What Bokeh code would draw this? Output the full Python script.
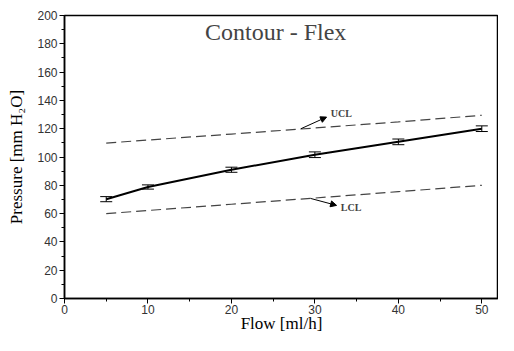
from bokeh.plotting import figure
from bokeh.models import ColumnDataSource, Whisker, TeeHead, Label, Arrow, NormalHead, Range1d, FixedTicker
from bokeh.embed import file_html
from bokeh.resources import INLINE

flow = [5, 10, 20, 30, 40, 50]
pressure = [70.2, 78.8, 91.0, 101.6, 110.7, 120.0]
err = [1.8, 1.5, 1.8, 2.0, 2.0, 2.0]
ucl = [109.8, 112.0, 116.2, 120.5, 124.8, 129.5]
lcl = [60.0, 62.2, 66.6, 71.0, 75.5, 80.0]

src = ColumnDataSource(dict(x=flow, y=pressure,
                            lo=[p - e for p, e in zip(pressure, err)],
                            hi=[p + e for p, e in zip(pressure, err)],
                            ucl=ucl, lcl=lcl))

p = figure(width=498, height=335, output_backend="svg", toolbar_location=None,
           x_range=Range1d(0, 52), y_range=Range1d(0, 200),
           min_border_top=15, min_border_right=0, min_border_left=64, min_border_bottom=10)
p.grid.visible = False
p.outline_line_color = "black"
p.outline_line_width = 1.5
p.background_fill_color = "white"
p.border_fill_color = "white"

p.line("x", "ucl", source=src, line_color="#444444", line_width=1.2, line_dash="10 5")
p.line("x", "lcl", source=src, line_color="#444444", line_width=1.2, line_dash="10 5")
p.line("x", "y", source=src, line_color="black", line_width=2)
p.add_layout(Whisker(source=src, base="x", lower="lo", upper="hi", line_color="black", line_width=1,
                     upper_head=TeeHead(size=12, line_color="black", line_width=1),
                     lower_head=TeeHead(size=12, line_color="black", line_width=1)))

for ax in (p.xaxis[0], p.yaxis[0]):
    ax.axis_line_color = "black"
    ax.axis_line_width = 1.5
    ax.major_tick_line_color = "black"
    ax.minor_tick_line_color = "black"
    ax.major_tick_in = 0
    ax.major_tick_out = 5
    ax.minor_tick_in = 0
    ax.minor_tick_out = 3
    ax.major_label_text_font = "Liberation Sans"
    ax.major_label_text_font_size = "12px"
    ax.major_label_text_color = "#333333"
    ax.axis_label_text_font = "Liberation Serif"
    ax.axis_label_text_font_size = "17px"
    ax.axis_label_text_font_style = "normal"
    ax.axis_label_text_color = "black"
    ax.major_label_standoff = 2

p.xaxis.ticker = FixedTicker(ticks=[0, 10, 20, 30, 40, 50], minor_ticks=[5, 15, 25, 35, 45])
p.yaxis.ticker = FixedTicker(ticks=list(range(0, 201, 20)), minor_ticks=list(range(10, 200, 20)))
p.xaxis.axis_label = "Flow [ml/h]"
p.yaxis.axis_label = "Pressure [mm H\u2082O]"
p.xaxis.axis_label_standoff = -3
p.xaxis.major_label_standoff = 1
p.yaxis.axis_label_standoff = 8

p.add_layout(Label(x=25.3, y=188.5, text="Contour - Flex", text_font="Liberation Serif",
                   text_font_size="24px", text_align="center", text_baseline="middle"))
p.add_layout(Label(x=31.9, y=130.6, text="UCL", text_font="Liberation Serif",
                   text_font_size="10px", text_font_style="bold", text_baseline="middle"))
p.add_layout(Label(x=33.1, y=64.6, text="LCL", text_font="Liberation Serif",
                   text_font_size="10px", text_font_style="bold", text_baseline="middle"))
p.add_layout(Arrow(x_start=28.3, y_start=119.9, x_end=31.4, y_end=128.2, line_width=1,
                   end=NormalHead(size=6, fill_color="black", line_color="black")))
p.add_layout(Arrow(x_start=29.5, y_start=70.7, x_end=32.6, y_end=65.8, line_width=1,
                   end=NormalHead(size=6, fill_color="black", line_color="black")))

open("out.html", "w").write(file_html(p, INLINE))
